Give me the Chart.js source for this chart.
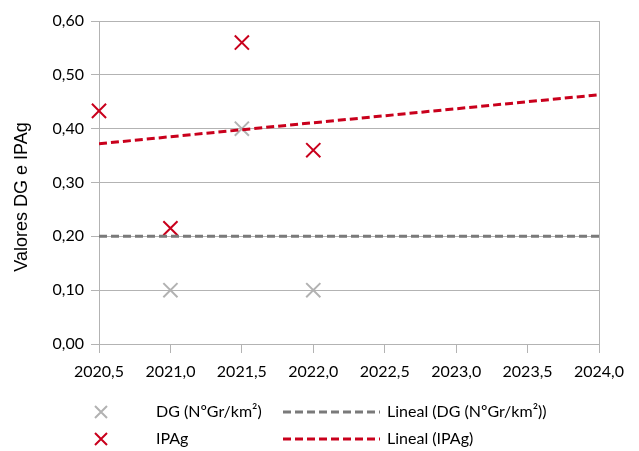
<!DOCTYPE html>
<html>
<head>
<meta charset="utf-8">
<script src="https://cdn.jsdelivr.net/npm/chart.js@4"></script>
<style>
  html, body { margin: 0; padding: 0; background: #fff; }
  #wrap { width: 639px; height: 451px; }
</style>
</head>
<body>
<div id="wrap"><canvas id="chart" width="639" height="451"></canvas></div>
<script>
// values
const years = [2020.5, 2021.0, 2021.5, 2022.0];
const dgValues = [null, 0.10, 0.40, 0.10];
const ipagValues = [0.433, 0.215, 0.56, 0.36];
// trend lines ("Lineal"), end points
const trendYears = [2020.5, 2024.0];
const dgTrend = [0.20, 0.20];
const ipagTrend = [0.372, 0.463];

const seriesNames = ['DG (NºGr/km²)', 'IPAg', 'Lineal (DG (NºGr/km²))', 'Lineal (IPAg)'];
const yTitle = 'Valores DG e IPAg';

const FONT = 'Lato, sans-serif';
const GRID = '#b3b3b3';
const GREY = '#b2b2b2';
const RED = '#c9001c';
const DARKGREY = '#7a7a7a';

function toPoints(xs, ys) {
    return xs.map((x, i) => ({ x: x, y: ys[i] })).filter(p => p.y !== null);
}

const legendPlugin = {
    id: 'sideLegend',
    afterDraw(chart) {
        const ctx = chart.ctx;
        ctx.save();
        // y axis title
        ctx.fillStyle = '#000';
        ctx.font = '18px "Liberation Sans", Arial, sans-serif';
        ctx.textAlign = 'center';
        ctx.textBaseline = 'middle';
        ctx.translate(22, 197);
        ctx.rotate(-Math.PI / 2);
        ctx.fillText(yTitle, 0, 0);
        ctx.restore();

        ctx.save();
        ctx.font = '16px ' + FONT;
        ctx.textBaseline = 'middle';
        ctx.textAlign = 'left';
        const rows = [412, 439];
        const markerColors = [GREY, RED];
        const lineColors = [DARKGREY, RED];
        rows.forEach((y, i) => {
            // marker
            ctx.strokeStyle = markerColors[i];
            ctx.lineWidth = 2;
            ctx.beginPath();
            ctx.moveTo(95, y - 6); ctx.lineTo(107, y + 6);
            ctx.moveTo(107, y - 6); ctx.lineTo(95, y + 6);
            ctx.stroke();
            ctx.fillStyle = '#000';
            ctx.fillText(seriesNames[i], 156, y);
            // dashed line
            ctx.strokeStyle = lineColors[i];
            ctx.lineWidth = 3;
            ctx.setLineDash([8, 4]);
            ctx.beginPath();
            ctx.moveTo(283, y); ctx.lineTo(380, y);
            ctx.stroke();
            ctx.setLineDash([]);
            ctx.fillText(seriesNames[i + 2], 387, y);
        });
        ctx.restore();
    }
};

new Chart(document.getElementById('chart'), {
    type: 'scatter',
    data: {
        datasets: [
            {
                label: seriesNames[2],
                type: 'line',
                data: toPoints(trendYears, dgTrend),
                borderColor: DARKGREY,
                borderWidth: 3,
                borderDash: [8, 4],
                pointRadius: 0,
                fill: false
            },
            {
                label: seriesNames[3],
                type: 'line',
                data: toPoints(trendYears, ipagTrend),
                borderColor: RED,
                borderWidth: 3,
                borderDash: [8, 4],
                pointRadius: 0,
                fill: false
            },
            {
                label: seriesNames[0],
                data: toPoints(years, dgValues),
                pointStyle: 'crossRot',
                pointRadius: 10,
                pointBorderWidth: 2,
                borderColor: GREY,
                backgroundColor: GREY,
                clip: false
            },
            {
                label: seriesNames[1],
                data: toPoints(years, ipagValues),
                pointStyle: 'crossRot',
                pointRadius: 10,
                pointBorderWidth: 2,
                borderColor: RED,
                backgroundColor: RED,
                clip: false
            }
        ]
    },
    options: {
        responsive: false,
        animation: false,
        layout: { padding: { left: 0, right: 40, top: 21, bottom: 0 } },
        plugins: {
            legend: { display: false },
            tooltip: { enabled: false }
        },
        scales: {
            x: {
                type: 'linear',
                min: 2020.5,
                max: 2024.0,
                afterFit: (scale) => { scale.height = 107; },
                ticks: {
                    stepSize: 0.5,
                    color: '#000',
                    font: { family: FONT, size: 16 },
                    padding: 9,
                    maxRotation: 0,
                    callback: (v) => v.toFixed(1).replace('.', ',')
                },
                grid: {
                    color: (c) => (c.tick && c.tick.value === 2024 ? GRID : 'rgba(0,0,0,0)'),
                    tickColor: GRID,
                    tickLength: 9
                },
                border: { color: GRID }
            },
            y: {
                min: 0,
                max: 0.6,
                afterFit: (scale) => { scale.width = 99; },
                ticks: {
                    stepSize: 0.1,
                    color: '#000',
                    font: { family: FONT, size: 16 },
                    padding: 7,
                    callback: (v) => v.toFixed(2).replace('.', ',')
                },
                grid: {
                    color: GRID,
                    tickColor: GRID,
                    tickLength: 8
                },
                border: { color: GRID }
            }
        }
    },
    plugins: [legendPlugin]
});
</script>
</body>
</html>
